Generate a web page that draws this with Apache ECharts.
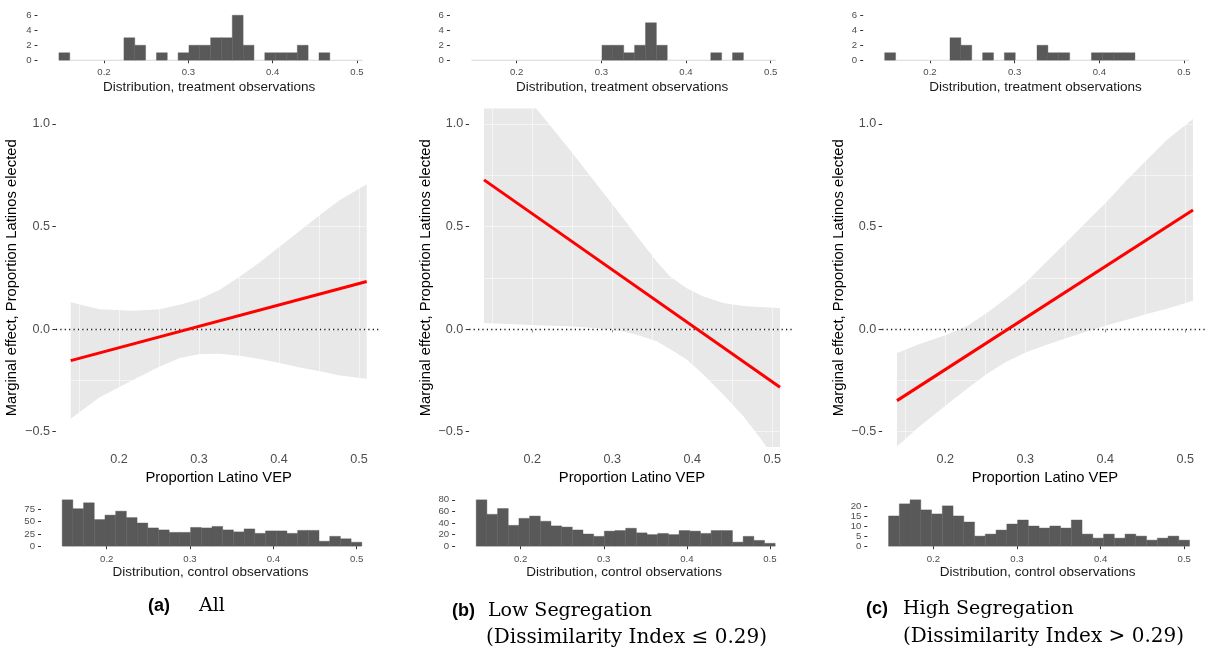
<!DOCTYPE html>
<html><head><meta charset="utf-8">
<script src="https://cdn.jsdelivr.net/npm/echarts@6/dist/echarts.min.js"></script>
<style>html,body{margin:0;padding:0;background:#fff}#c{width:1209px;height:652px}</style>
</head><body><div id="c"></div>
<script>
// ---------- data ----------
const binStart = 0.1465, binWidth = 0.01285;
const treatA = [1,0,0,0,0,0,3,2,0,1,0,1,2,2,3,3,6,2,0,1,1,1,2,0,1,0,0,0];
const treatB = [0,0,0,0,0,0,0,0,0,0,0,0,2,2,1,2,5,2,0,0,0,0,1,0,1,0,0,0];
const treatC = [1,0,0,0,0,0,3,2,0,1,0,1,0,0,2,1,1,0,0,1,1,1,1,0,0,0,0,0];
const ctrlA = [94,76,88,54,63,71,58,47,37,33,28,28,38,37,40,33,29,35,26,31,31,26,32,32,10,20,15,8];
const ctrlB = [80,55,65,36,48,52,43,35,33,28,21,17,26,27,31,23,20,22,20,27,26,22,27,27,7,17,10,5];
const ctrlC = [15,21,23,18,16,20,15,12,5,6,8,11,13,10,9,10,9,13,6,4,6,4,6,5,3,4,5,3];

const bandXA = [0.1396,0.176,0.218,0.251,0.276,0.301,0.326,0.351,0.376,0.401,0.426,0.451,0.476,0.5096];
const upperA = [0.130,0.097,0.089,0.097,0.118,0.146,0.191,0.256,0.326,0.402,0.479,0.556,0.629,0.706];
const lowerA = [-0.437,-0.333,-0.247,-0.182,-0.141,-0.122,-0.120,-0.130,-0.146,-0.166,-0.187,-0.206,-0.226,-0.242];

const bandXB = [0.1396,0.17,0.2055,0.2471,0.2888,0.3138,0.3305,0.3555,0.3721,0.393,0.4138,0.4388,0.4638,0.4846,0.5096];
const upperB = [1.425,1.264,1.073,0.873,0.664,0.539,0.454,0.329,0.256,0.199,0.159,0.127,0.112,0.107,0.102];
const lowerB = [0.029,0.024,0.018,0.013,0.002,-0.012,-0.028,-0.060,-0.097,-0.148,-0.222,-0.320,-0.425,-0.530,-0.670];

const bandXC = [0.1396,0.168,0.2017,0.2268,0.2518,0.2768,0.3018,0.3268,0.3518,0.3768,0.4018,0.4268,0.4518,0.4768,0.5096];
const upperC = [-0.117,-0.073,-0.028,0.013,0.078,0.151,0.232,0.329,0.426,0.524,0.621,0.727,0.824,0.921,1.024];
const lowerC = [-0.572,-0.474,-0.369,-0.292,-0.219,-0.158,-0.112,-0.076,-0.044,-0.012,0.018,0.045,0.073,0.099,0.138];

const lineX = [0.1396, 0.5096];
const lineA = [-0.154, 0.232];
const lineB = [0.727, -0.284];
const lineC = [-0.349, 0.580];

const xTicks = [0.2, 0.3, 0.4, 0.5];
const yTicks = [-0.5, 0, 0.5, 1.0];
const treatTicks = [0, 2, 4, 6];
const ctrlTicksA = [0, 25, 50, 75];
const ctrlTicksB = [0, 20, 40, 60, 80];
const ctrlTicksC = [0, 5, 10, 15, 20];
const gridX = [0.15,0.2,0.25,0.3,0.35,0.4,0.45,0.5];
const gridY = [-0.5,-0.25,0,0.25,0.5,0.75,1.0];

const xTitle = 'Proportion Latino VEP';
const yTitle = 'Marginal effect, Proportion Latinos elected';
const treatTitle = 'Distribution, treatment observations';
const ctrlTitle = 'Distribution, control observations';

// ---------- layout ----------
const FONT = '"Liberation Sans", Arial, Helvetica, sans-serif';
const SERIF = '"DejaVu Serif", serif';
const X_RANGE = [0.1211, 0.5281];
const Y_RANGE = [-0.575, 1.075];
const TREAT_RANGE = [-0.3, 6.3];
const panels = [
  {treat:treatA, ctrl:ctrlA, ctrlTicks:ctrlTicksA, ctrlRange:[-4.7,98.7], bx:bandXA, up:upperA, lo:lowerA, line:lineA,
   top:[37.5,343.2], main:[55.9,325.6], bot:[41,339]},
  {treat:treatB, ctrl:ctrlB, ctrlTicks:ctrlTicksB, ctrlRange:[-4,84], bx:bandXB, up:upperB, lo:lowerB, line:lineB,
   top:[449.9,344.6], main:[469.2,325.6], bot:[455.1,338.2]},
  {treat:treatC, ctrl:ctrlC, ctrlTicks:ctrlTicksC, ctrlRange:[-1.15,24.15], bx:bandXC, up:upperC, lo:lowerC, line:lineC,
   top:[863.2,344.6], main:[882.2,325.6], bot:[867.3,340.5]}
];

const tickStyle = {lineStyle:{color:'#333', width:1}};
function histX(g, name, margin, gap) {
  return {gridIndex:g, type:'value', min:X_RANGE[0], max:X_RANGE[1],
    axisLine:{show:false},
    axisTick:{show:true, length:3, customValues:xTicks, ...tickStyle},
    axisLabel:{customValues:xTicks, formatter:v=>v.toFixed(1), fontSize:9.6, color:'#4d4d4d', margin:margin, fontFamily:FONT},
    splitLine:{show:false},
    name:name, nameLocation:'middle', nameGap:gap, nameTextStyle:{fontSize:13.5, color:'#1a1a1a', fontFamily:FONT}};
}
function histY(g, ticks, range) {
  return {gridIndex:g, type:'value', min:range[0], max:range[1],
    axisLine:{show:false},
    axisTick:{show:true, length:3, customValues:ticks, ...tickStyle},
    axisLabel:{customValues:ticks, formatter:v=>String(v), fontSize:9.6, color:'#4d4d4d', margin:6, fontFamily:FONT},
    splitLine:{show:false}};
}
function mainX(g) {
  return {gridIndex:g, type:'value', min:X_RANGE[0], max:X_RANGE[1],
    axisLine:{show:false},
    axisTick:{show:true, length:3.5, customValues:xTicks, ...tickStyle},
    axisLabel:{customValues:xTicks, formatter:v=>v.toFixed(1), fontSize:12.6, color:'#4d4d4d', margin:6, fontFamily:FONT},
    splitLine:{show:false},
    name:xTitle, nameLocation:'middle', nameGap:20.5, nameTextStyle:{fontSize:14.8, color:'#000', fontFamily:FONT}};
}
function mainY(g) {
  return {gridIndex:g, type:'value', min:Y_RANGE[0], max:Y_RANGE[1],
    axisLine:{show:false},
    axisTick:{show:true, length:3.5, customValues:yTicks, ...tickStyle},
    axisLabel:{customValues:yTicks, formatter:v=>(v<0?'\u2212':'')+Math.abs(v).toFixed(1), fontSize:12.6, color:'#4d4d4d', margin:6, fontFamily:FONT},
    splitLine:{show:false},
    name:yTitle, nameLocation:'middle', nameRotate:90, nameGap:36, nameTextStyle:{fontSize:14.8, color:'#000', fontFamily:FONT}};
}
function overlayX(g) {
  return {gridIndex:g, type:'value', min:X_RANGE[0], max:X_RANGE[1], position:'top', z:3,
    axisLine:{show:false}, axisTick:{show:false, customValues:gridX}, axisLabel:{show:false},
    splitLine:{show:true, lineStyle:{color:'rgba(255,255,255,0.5)', width:1}}};
}
function overlayY(g) {
  return {gridIndex:g, type:'value', min:Y_RANGE[0], max:Y_RANGE[1], position:'right', z:3,
    axisLine:{show:false}, axisTick:{show:false, customValues:gridY}, axisLabel:{show:false},
    splitLine:{show:true, lineStyle:{color:'rgba(255,255,255,0.5)', width:1}}};
}

function histSeries(ai, counts) {
  return {type:'custom', xAxisIndex:ai, yAxisIndex:ai, silent:true,
    data: counts.map((c,i)=>[binStart + i*binWidth, c]),
    renderItem: function(params, api) {
      const x0 = api.value(0), c = api.value(1);
      const p0 = api.coord([x0, 0]), p1 = api.coord([x0 + binWidth, c]);
      if (c === 0) {
        return {type:'line', shape:{x1:p0[0], y1:p0[1], x2:p1[0], y2:p0[1]}, style:{stroke:'#d6d6d6', lineWidth:1}};
      }
      return {type:'rect', shape:{x:p0[0], y:p1[1], width:p1[0]-p0[0], height:p0[1]-p1[1]},
        style:{fill:'#595959', stroke:'#595959', lineWidth:0.4}};
    }};
}
function bandSeries(ai, bx, up, lo) {
  return {type:'custom', xAxisIndex:ai, yAxisIndex:ai, silent:true, clip:true, z:1,
    data:[[bx[0], lo[0]]],
    renderItem: function(params, api) {
      const top = bx.map((x,i)=>api.coord([x, up[i]]));
      const bot = bx.map((x,i)=>api.coord([x, lo[i]])).reverse();
      return {type:'polygon', shape:{points: top.concat(bot)}, style:{fill:'#e8e8e8'}};
    }};
}

const grids=[], xAxes=[], yAxes=[], series=[];
panels.forEach((P) => {
  const g = grids.length;
  grids.push({left:P.top[0], width:P.top[1], top:13, height:49.5, outerBoundsMode:'none'});
  grids.push({left:P.main[0], width:P.main[1], top:108.5, height:338.5, outerBoundsMode:'none'});
  grids.push({left:P.bot[0], width:P.bot[1], top:497.5, height:51, outerBoundsMode:'none'});
  xAxes.push(histX(g, treatTitle, 5, 18));   yAxes.push(histY(g, treatTicks, TREAT_RANGE));
  xAxes.push(mainX(g+1));                    yAxes.push(mainY(g+1));
  xAxes.push(histX(g+2, ctrlTitle, 6, 16.5)); yAxes.push(histY(g+2, P.ctrlTicks, P.ctrlRange));
  series.push(histSeries(g, P.treat));
  series.push(histSeries(g+2, P.ctrl));
  series.push(bandSeries(g+1, P.bx, P.up, P.lo));
  series.push({type:'line', xAxisIndex:g+1, yAxisIndex:g+1, z:5, silent:true, symbol:'none',
    data: lineX.map((x,i)=>[x, P.line[i]]),
    lineStyle:{color:'#ff0000', width:3},
    markLine:{silent:true, symbol:['none','none'], label:{show:false}, z:4,
      lineStyle:{color:'#111', type:[1.2,3.2], width:1.3}, data:[{yAxis:0}]}});
});
panels.forEach((P, p) => { xAxes.push(overlayX(p*3+1)); yAxes.push(overlayY(p*3+1)); });

function cap(x, y, text, kind) {
  const font = kind === 'bold' ? 'bold 18px ' + FONT : (kind === 'l2' ? '20px ' + SERIF : '19px ' + SERIF);
  return {type:'text', x:x, y:y, style:{text:text, fill:'#000', font:font, verticalAlign:'middle', textVerticalAlign:'middle'}};
}

const chart = echarts.init(document.getElementById('c'), null, {renderer:'canvas'});
chart.setOption({
  animation:false,
  backgroundColor:'#fff',
  textStyle:{fontFamily:FONT},
  grid:grids, xAxis:xAxes, yAxis:yAxes, series:series,
  graphic:[
    cap(148, 606, '(a)', 'bold'), cap(199, 606, 'All', 's'),
    cap(452, 611, '(b)', 'bold'), cap(488, 611, 'Low Segregation', 's'),
    cap(486, 638, '(Dissimilarity Index \u2264 0.29)', 'l2'),
    cap(866, 609, '(c)', 'bold'), cap(903, 609, 'High Segregation', 's'),
    cap(903, 637, '(Dissimilarity Index > 0.29)', 'l2')
  ]
});
</script></body></html>
